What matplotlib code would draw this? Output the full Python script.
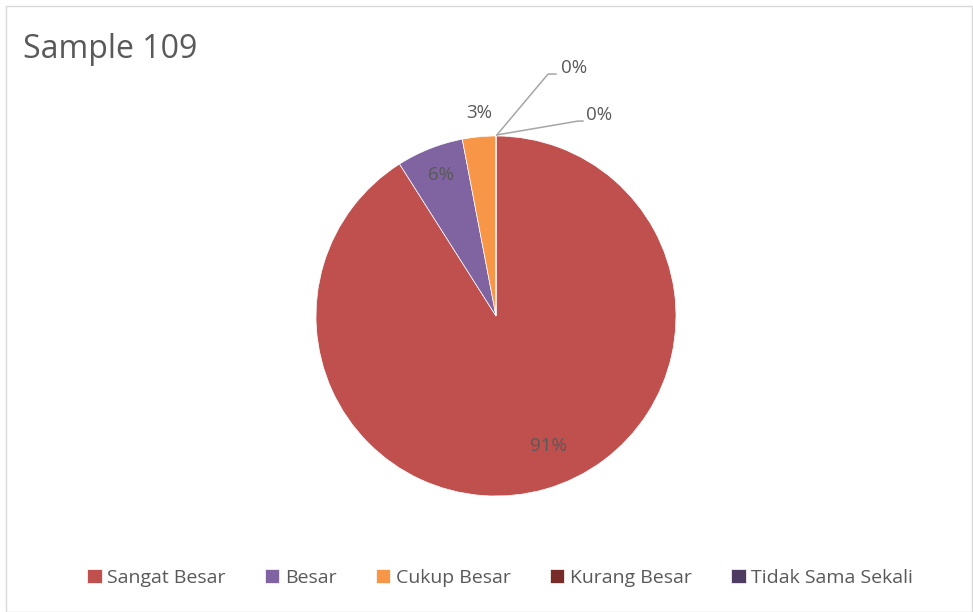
import matplotlib
matplotlib.use("Agg")
import matplotlib.pyplot as plt
from matplotlib.patches import Rectangle

plt.rcParams['font.family'] = ['Open Sans', 'DejaVu Sans']

title = "Sample 109"
categories = ["Sangat Besar", "Besar", "Cukup Besar", "Kurang Besar", "Tidak Sama Sekali"]
values = [91, 6, 3, 0, 0]
colors = ["#C0504D", "#8064A2", "#F79646", "#772C2A", "#4D3B62"]
pct_labels = ["91%", "6%", "3%", "0%", "0%"]

text_col = "#595959"

fig = plt.figure(figsize=(9.73, 6.12), dpi=100)
W, H = 973, 612

# chart border
fig.patches.append(Rectangle((6 / W, 0), 1 - 7 / W, 1 - 6 / H, transform=fig.transFigure,
                             fill=False, edgecolor="#D9D9D9", linewidth=1.0))

fig.text(23 / W, 1 - 50 / H, title, fontsize=23, color=text_col, va="center", ha="left")

# pie centre at (496, 316) px, radius 180 px
ax = fig.add_axes([316 / W, (612 - 496) / H, 360 / W, 360 / H])
wedges, _ = ax.pie(values, colors=colors, startangle=90, counterclock=False,
                   wedgeprops=dict(linewidth=0.5, edgecolor="white"))
ax.set_xlim(-1, 1)
ax.set_ylim(-1, 1)
ax.set_aspect("equal")
ax.axis("off")

# data labels
lab_pos = [(0.294, -0.722), (-0.306, 0.783), (-0.094, 1.128), (0.433, 1.378), (0.572, 1.117)]
for (x, y), t in zip(lab_pos, pct_labels):
    ax.text(x, y, t, fontsize=13.5, color=text_col, ha="center", va="center", clip_on=False)

# leader lines for the zero slices
ax.plot([0.005, 0.289, 0.333], [1.006, 1.344, 1.344], color="#A6A6A6", lw=1.1, clip_on=False)
ax.plot([0.005, 0.456, 0.483], [1.006, 1.083, 1.083], color="#A6A6A6", lw=1.1, clip_on=False)

leg = fig.legend(wedges, categories, loc="center", bbox_to_anchor=(0.514, 1 - 578 / H), ncol=5,
                 frameon=False, fontsize=14, handlelength=0.75, handleheight=0.75,
                 handletextpad=0.3, columnspacing=2.0)
for t in leg.get_texts():
    t.set_color(text_col)

fig.savefig("out.png", dpi=100)
